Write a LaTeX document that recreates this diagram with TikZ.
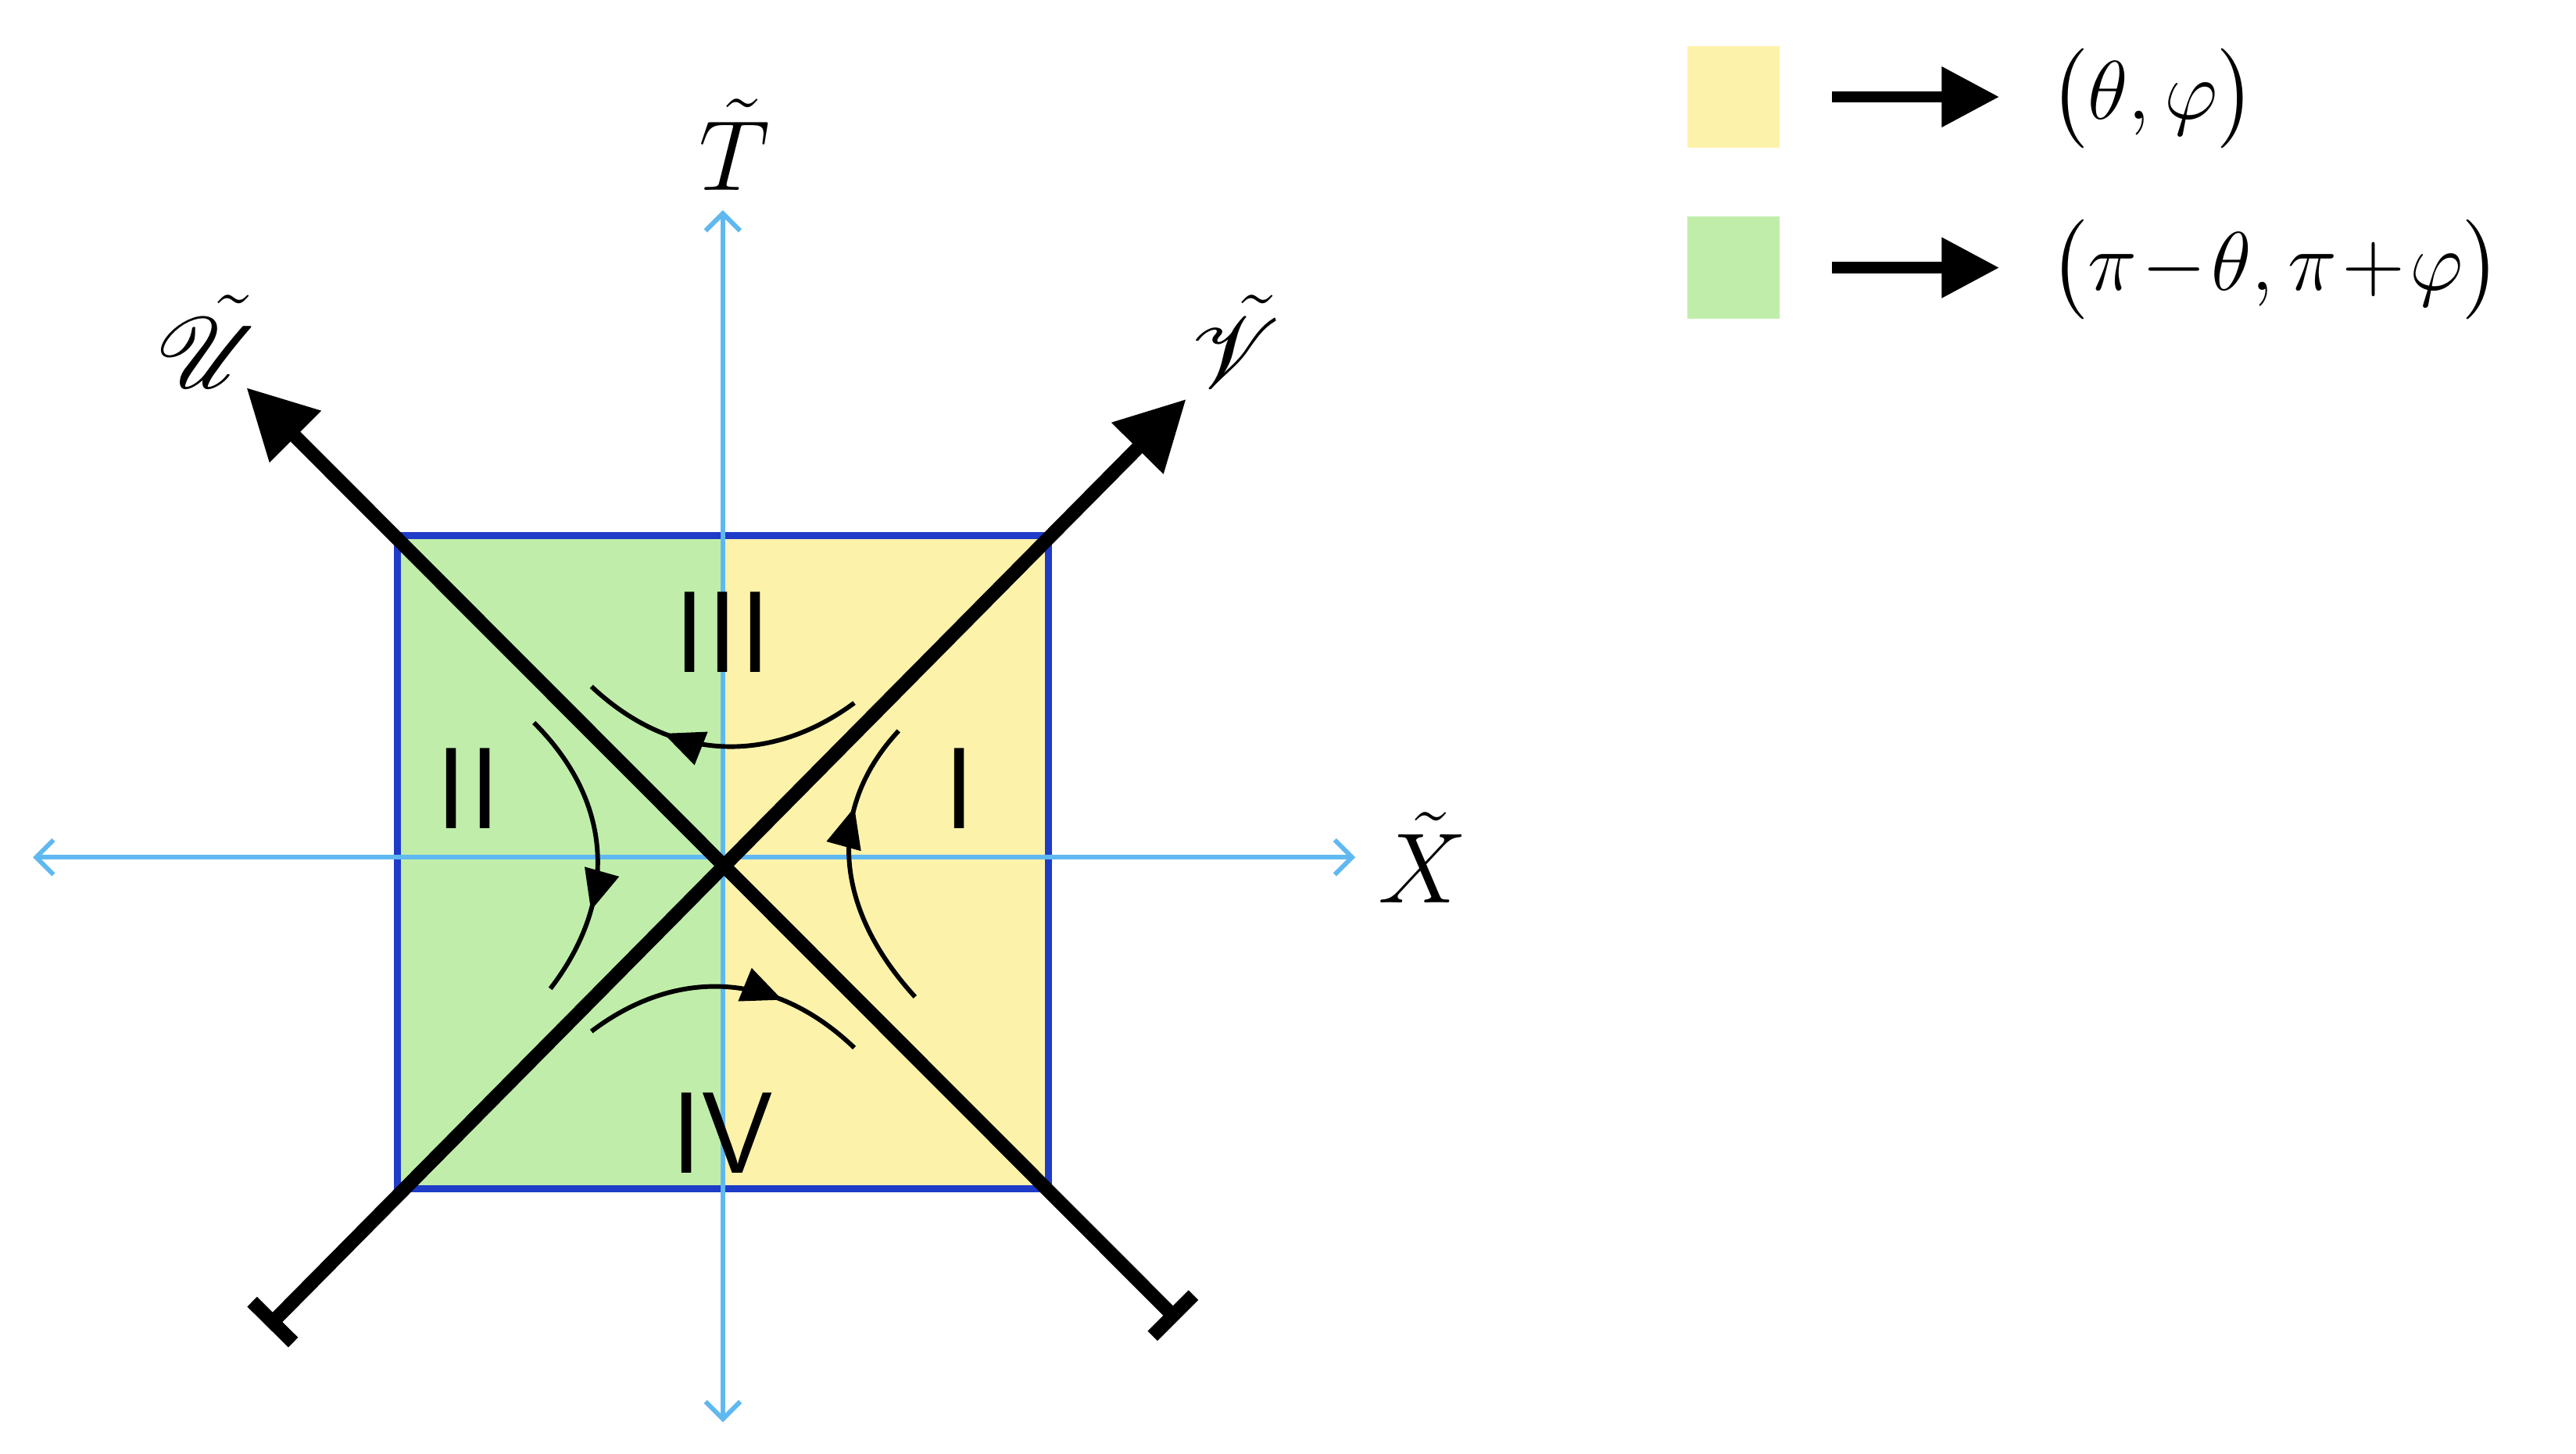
\documentclass[tikz,border=0pt]{standalone}
\usepackage{amsmath}
\usepackage{mathrsfs}
\usetikzlibrary{arrows.meta,decorations.markings}
\definecolor{paleyellow}{RGB}{253,242,170}
\definecolor{palegreen}{RGB}{192,238,170}
\definecolor{axisblue}{RGB}{96,184,240}
\definecolor{edgeblue}{RGB}{30,60,200}
\tikzset{
  axis/.style={axisblue,line width=0.8pt,{Straight Barb[length=3pt,width=6pt]}-{Straight Barb[length=3pt,width=6pt]}},
  null/.style={line width=2.4pt,{Bar[width=10pt]}-{Triangle[length=12pt,width=12pt]}},
  flow/.style={line width=0.8pt,postaction={decorate},
    decoration={markings,mark=at position 0.7 with {\arrow{Triangle[length=7pt,width=6pt]}}}},
  region/.style={font=\sffamily\fontsize{20}{22}\selectfont},
  lbl/.style={font=\fontsize{17}{20}\selectfont,inner sep=0pt},
  keytext/.style={font=\fontsize{15.5}{18}\selectfont,anchor=west,inner sep=0pt}
}
\begin{document}
\begin{tikzpicture}[x=0.01cm,y=-0.01cm]
\useasboundingbox (0,0) rectangle (1568,885);
\path   (440,522) coordinate (O)
        (242,326) coordinate (NW)
        (638,326) coordinate (NE)
        (242,724) coordinate (SW)
        (638,724) coordinate (SE)
        (440,326) coordinate (N)
        (440,724) coordinate (S);
% two halves of the square
\fill[palegreen] (NW) rectangle (S);
\fill[paleyellow] (N) rectangle (SE);
\draw[edgeblue,line width=1.2pt] (NW) rectangle (SE);
% axes
\draw[axis] (20,522) coordinate (Xl) -- (825,522) coordinate (Xr);
\draw[axis] (440,866) coordinate (Tb) -- (440,128) coordinate (Tt);
% null directions
\draw[null] (717,804) coordinate (Ub) -- (150,236) coordinate (Ut);
\draw[null] (163,808) coordinate (Vb) -- (722,243) coordinate (Vt);
\node[lbl] (Tlab) at (447,88) {$\tilde T$};
\node[lbl] (Xlab) at (866,522) {$\tilde X$};
\node[lbl] (Ulab) at (127,208) {$\tilde{\mathscr U}$};
\node[lbl] (Vlab) at (752,208) {$\tilde{\mathscr V}$};
% regions
\node[region] (r1) at (584,480) {I};
\node[region] (r2) at (285,480) {II};
\node[region] (r3) at (440,385) {III};
\node[region] (r4) at (440,690) {IV};
% flow lines
\draw[flow] (557,607) .. controls (505,550) and (505,490) .. (547,445);
\draw[flow] (325,440) .. controls (375,490) and (375,550) .. (335,602);
\draw[flow] (520,428) .. controls (470,465) and (410,465) .. (360,418);
\draw[flow] (360,628) .. controls (410,590) and (470,590) .. (520,638);
% legend
\fill[paleyellow] (1027,28) rectangle (1083,90);
\fill[palegreen] (1027,132) rectangle (1083,194);
\draw[line width=2pt,-{Triangle[length=10pt,width=10pt]}] (1115,59) -- (1217,59);
\draw[line width=2pt,-{Triangle[length=10pt,width=10pt]}] (1115,163) -- (1217,163);
\node[keytext] (key1) at (1247,60) {$\bigl(\theta,\varphi\bigr)$};
\node[keytext] (key2) at (1247,164) {$\bigl(\pi\!-\!\theta,\pi\!+\!\varphi\bigr)$};
\end{tikzpicture}
\end{document}
